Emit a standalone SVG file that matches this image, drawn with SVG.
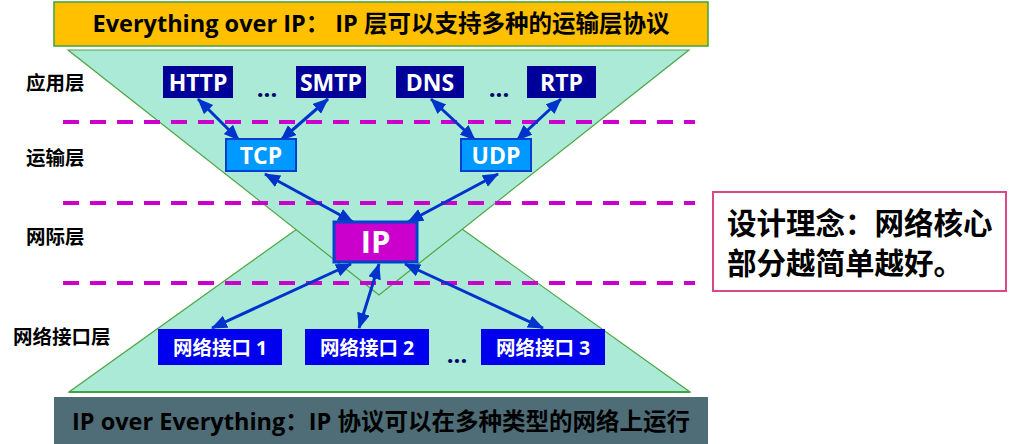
<svg xmlns="http://www.w3.org/2000/svg" width="1019" height="444" viewBox="0 0 1019 444">
<style>
.t{font-family:"Open Sans","Noto Sans CJK SC",sans-serif;font-weight:bold}
.lbl{font-family:"Noto Sans CJK SC",sans-serif;font-weight:bold;font-size:19.5px;fill:#000}
.app{fill:#000099}
.tw{fill:#fff;text-anchor:middle}
.dash{stroke:#CC00CC;stroke-width:4;stroke-dasharray:16 11}
.arr{stroke:#0033CC;stroke-width:3;fill:none;marker-start:url(#ah);marker-end:url(#ah)}
.nif{fill:#0000EE}
.dots{fill:#000066;text-anchor:middle;font-size:24px}
</style>
<defs>
<marker id="ah" markerUnits="userSpaceOnUse" markerWidth="18" markerHeight="14" refX="15" refY="6.5" orient="auto-start-reverse" viewBox="0 0 18 14">
<path d="M0,0 L16,6.5 L0,13 z" fill="#0033CC"/>
</marker>
</defs>
<rect width="1019" height="444" fill="#fff"/>
<g id="banner-top">
<rect x="54" y="2" width="654" height="44" fill="#FFC000" stroke="#3FA33F" stroke-width="1.5"/>
<text class="t" x="381" y="32" font-size="23.5" text-anchor="middle" fill="#000">Everything over IP： IP 层可以支持多种的运输层协议</text>
</g>
<g id="shapes">
<polygon points="69,392 690,392 379.5,170" fill="#AAEAD6" stroke="#4EA646" stroke-width="1.2"/>
<line x1="69" y1="392" x2="690" y2="392" stroke="#3FA33F" stroke-width="2"/>
<polygon points="68,50 689,50 379,295" fill="#AAEAD6" stroke="#4EA646" stroke-width="1.2"/>
</g>
<g id="banner-bottom">
<rect x="54" y="397" width="654" height="47" fill="#4E6D77"/>
<text class="t" x="381" y="430" font-size="23.5" text-anchor="middle" fill="#000">IP over Everything：IP 协议可以在多种类型的网络上运行</text>
</g>
<g id="layer-labels">
<text class="lbl" x="26" y="90">应用层</text>
<text class="lbl" x="26" y="165">运输层</text>
<text class="lbl" x="26" y="244">网际层</text>
<text class="lbl" x="13" y="344">网络接口层</text>
</g>
<g id="dividers">
<line class="dash" x1="63" y1="122" x2="695" y2="122"/>
<line class="dash" x1="63" y1="203" x2="695" y2="203"/>
<line class="dash" x1="63" y1="283" x2="695" y2="283"/>
</g>
<g id="connectors">
<line class="arr" x1="198" y1="99" x2="239" y2="140"/>
<line class="arr" x1="328" y1="99" x2="281" y2="140"/>
<line class="arr" x1="431" y1="99" x2="475" y2="140"/>
<line class="arr" x1="561" y1="99" x2="517" y2="140"/>
<line class="arr" x1="265" y1="174" x2="353" y2="222"/>
<line class="arr" x1="498" y1="174" x2="408" y2="222"/>
<line class="arr" x1="351" y1="264" x2="212" y2="328"/>
<line class="arr" x1="379" y1="264" x2="359" y2="328"/>
<line class="arr" x1="405" y1="264" x2="543" y2="328"/>
</g>
<g id="http"><rect class="app" x="163" y="66" width="70" height="32"/><text class="t tw" x="198" y="90.5" font-size="23">HTTP</text></g>
<g id="dots1"><text class="t dots" x="267" y="97">...</text></g>
<g id="smtp"><rect class="app" x="296" y="66" width="70" height="32"/><text class="t tw" x="331" y="90.5" font-size="23">SMTP</text></g>
<g id="dns"><rect class="app" x="396" y="66" width="68" height="32"/><text class="t tw" x="430" y="90.5" font-size="23">DNS</text></g>
<g id="dots2"><text class="t dots" x="499" y="97">...</text></g>
<g id="rtp"><rect class="app" x="527" y="66" width="69" height="32"/><text class="t tw" x="561.5" y="90.5" font-size="23">RTP</text></g>
<g id="tcp"><rect x="226" y="139" width="70" height="32" fill="#0099FF" stroke="#0040CC" stroke-width="2"/><text class="t tw" x="261" y="163.5" font-size="23">TCP</text></g>
<g id="udp"><rect x="461" y="139" width="70" height="32" fill="#0099FF" stroke="#0040CC" stroke-width="2"/><text class="t tw" x="496" y="163.5" font-size="23">UDP</text></g>
<g id="ip"><rect x="334" y="222" width="83" height="40" fill="#CC00CC" stroke="#0044CC" stroke-width="3"/><text class="t tw" x="375.5" y="253" font-size="31">IP</text></g>
<g id="nif1"><rect class="nif" x="158" y="329" width="124" height="36"/><text class="t tw" x="220" y="354.5" font-size="19.5">网络接口 1</text></g>
<g id="nif2"><rect class="nif" x="305" y="329" width="124" height="36"/><text class="t tw" x="367" y="354.5" font-size="19.5">网络接口 2</text></g>
<g id="dots3"><text class="t dots" x="457" y="363">...</text></g>
<g id="nif3"><rect class="nif" x="481" y="329" width="124" height="36"/><text class="t tw" x="543" y="354.5" font-size="19.5">网络接口 3</text></g>
<g id="note">
<rect x="713" y="192" width="293" height="99" fill="#fff" stroke="#D9488A" stroke-width="2"/>
<text class="t" x="727" y="234" font-size="29.5" fill="#000">设计理念：网络核心</text>
<text class="t" x="727" y="274" font-size="29.5" fill="#000">部分越简单越好。</text>
</g>
</svg>
